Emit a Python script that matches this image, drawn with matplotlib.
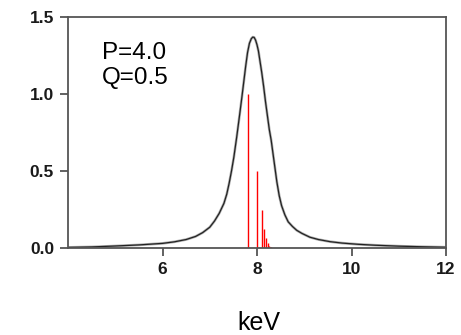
import numpy as np
import matplotlib
matplotlib.use("Agg")
import matplotlib.pyplot as plt

plt.rcParams['font.family'] = ['Liberation Sans', 'DejaVu Sans']

# broadened line profile
curve_kev = [4.0, 4.5, 5.0, 5.5, 6.0, 6.25, 6.5, 6.7, 6.85, 7.0, 7.1, 7.2,
             7.3, 7.36, 7.41, 7.46, 7.51, 7.57, 7.63, 7.68, 7.72, 7.76, 7.80,
             7.84, 7.88, 7.91, 7.94, 7.97, 8.00, 8.03, 8.06, 8.10, 8.14, 8.18,
             8.22, 8.26, 8.30, 8.34, 8.38, 8.42, 8.47, 8.52, 8.59, 8.66, 8.75,
             8.84, 8.95, 9.12, 9.3, 9.55, 9.8, 10.14, 10.5, 11.0, 11.5, 12.0]
curve_int = [0.004, 0.007, 0.013, 0.020, 0.030, 0.040, 0.055, 0.075, 0.100,
             0.135, 0.175, 0.225, 0.29, 0.35, 0.42, 0.50, 0.59, 0.72, 0.86,
             0.98, 1.08, 1.18, 1.27, 1.33, 1.36, 1.37, 1.368, 1.35, 1.32, 1.28,
             1.22, 1.14, 1.05, 0.95, 0.86, 0.77, 0.70, 0.61, 0.52, 0.43, 0.34,
             0.275, 0.215, 0.17, 0.14, 0.115, 0.095, 0.07, 0.055, 0.041, 0.032,
             0.024, 0.018, 0.012, 0.008, 0.005]

# stick spectrum (red lines)
stick_kev = [7.80, 7.99, 8.10, 8.155, 8.20, 8.225, 8.25, 8.27, 8.29, 8.31]
stick_int = [1.0, 0.5, 0.25, 0.125, 0.0625, 0.031, 0.016, 0.008, 0.004, 0.002]

fig = plt.figure(figsize=(4.61, 3.35), dpi=100)
ax = fig.add_axes([0.1475, 0.2597, 0.82, 0.6893])

ax.vlines(stick_kev, 0, stick_int, color='red', linewidth=1.0)
ax.plot(curve_kev, curve_int, color='#b0b0b0', linewidth=1.9,
        solid_joinstyle='round')
ax.plot(curve_kev, curve_int, color='#222222', linewidth=0.9,
        solid_joinstyle='round')

ax.set_xlim(4, 12)
ax.set_ylim(0, 1.5)
ax.set_xticks([6, 8, 10, 12])
ax.set_yticks([0.0, 0.5, 1.0, 1.5])
ax.set_yticklabels(['0.0', '0.5', '1.0', '1.5'])

for sp in ax.spines.values():
    sp.set_color('#555555')
    sp.set_linewidth(1.3)
ax.tick_params(direction='out', length=6, width=1.3, color='#555555',
               labelsize=12.5, pad=4)
for lab in ax.get_xticklabels() + ax.get_yticklabels():
    lab.set_fontweight('bold')
    lab.set_color('#1a1a1a')

ax.text(4.72, 1.34, 'P=4.0\nQ=0.5', fontsize=17.5, va='top', ha='left',
        linespacing=1.2)

fig.text(0.562, 0.015, 'keV', fontsize=18, ha='center', va='baseline')

fig.savefig('out.png', dpi=100)
